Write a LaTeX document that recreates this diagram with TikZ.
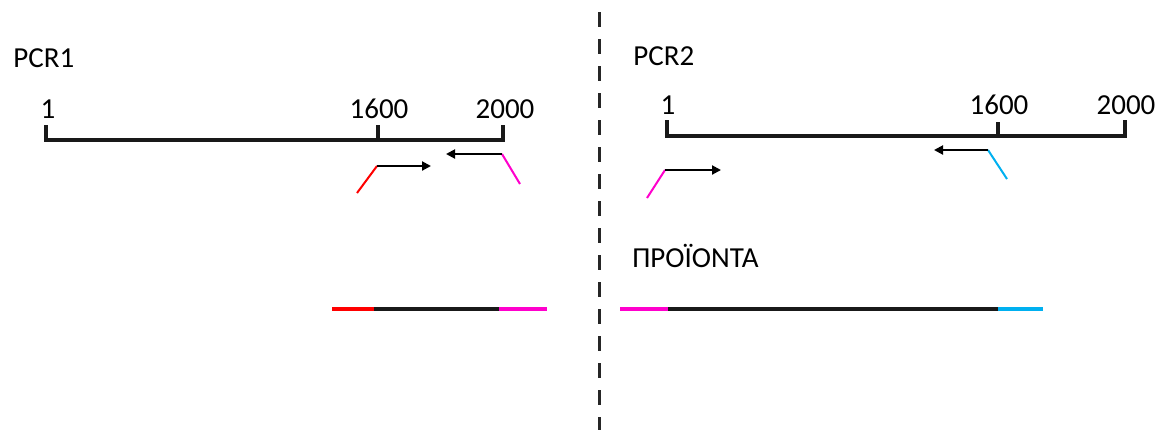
\documentclass[tikz,border=0pt]{standalone}
\usepackage{fontspec}
\setmainfont{Carlito}
\usetikzlibrary{arrows.meta}
\begin{document}
\begin{tikzpicture}[x=0.5pt,y=-0.5pt,
  lbl/.style={inner sep=0pt,anchor=base,font=\fontsize{14.5pt}{16pt}\selectfont,text=black},
  ttl/.style={lbl,anchor=base west},
  ruler/.style={line width=1.6pt,black!90},
  primer/.style={line width=1pt},
  fwd/.style={primer,-{Triangle[length=4.5pt,width=4.5pt]}},
  product/.style={line width=2pt},
  divider/.style={line width=1.5pt,black!85,dash pattern=on 7.5pt off 6pt}]
\useasboundingbox (0,0) rectangle (1167,430);
\definecolor{fred}{RGB}{255,0,0}
\definecolor{fpink}{RGB}{255,0,204}
\definecolor{fblue}{RGB}{0,176,240}

% divider between the two reactions
\coordinate (dtop) at (599,12);
\coordinate (dbot) at (599,430);
\draw[divider] (dtop) -- (dbot);

% ---------- PCR1 ----------
\node[ttl] (t1) at (13,67) {PCR1};
\coordinate (a1) at (46,140);
\coordinate (a1t) at (46,125);
\coordinate (a16) at (378,140);
\coordinate (a16t) at (378,125);
\coordinate (a20) at (503,140);
\coordinate (a20t) at (503,125);
\draw[ruler] (a1t) -- (a1) -- (a20) -- (a20t);
\draw[ruler] (a16) -- (a16t);
\node[lbl] (n1) at (48,118) {1};
\node[lbl] (n16) at (379,118) {1600};
\node[lbl] (n20) at (505,118) {2000};

% primers
\coordinate (p1a) at (357,193);
\coordinate (p1b) at (377,166);
\coordinate (p1c) at (431,166);
\draw[primer,fred] (p1a) -- (p1b);
\draw[fwd] (p1b) -- (p1c);
\coordinate (r1a) at (520,184);
\coordinate (r1b) at (502,154);
\coordinate (r1c) at (446,154);
\draw[primer,fpink] (r1a) -- (r1b);
\draw[fwd] (r1b) -- (r1c);

% product
\coordinate (q1) at (332,309);
\coordinate (q2) at (374,309);
\coordinate (q3) at (499,309);
\coordinate (q4) at (547,309);
\draw[product,fred] (q1) -- (q2);
\draw[product,black!90] (q2) -- (q3);
\draw[product,fpink] (q3) -- (q4);

% ---------- PCR2 ----------
\node[ttl] (t2) at (633,65) {PCR2};
\coordinate (b1) at (667,136);
\coordinate (b1t) at (667,120);
\coordinate (b16) at (998,136);
\coordinate (b16t) at (998,122);
\coordinate (b20) at (1125,136);
\coordinate (b20t) at (1125,120);
\draw[ruler] (b1t) -- (b1) -- (b20) -- (b20t);
\draw[ruler] (b16) -- (b16t);
\node[lbl] (m1) at (668,114) {1};
\node[lbl] (m16) at (999,114) {1600};
\node[lbl] (m20) at (1126,114) {2000};

% primers
\coordinate (p2a) at (647,198);
\coordinate (p2b) at (665,170);
\coordinate (p2c) at (721,170);
\draw[primer,fpink] (p2a) -- (p2b);
\draw[fwd] (p2b) -- (p2c);
\coordinate (r2a) at (1007,179);
\coordinate (r2b) at (988,150);
\coordinate (r2c) at (934,150);
\draw[primer,fblue] (r2a) -- (r2b);
\draw[fwd] (r2b) -- (r2c);

% products
\node[ttl] (t3) at (632,267) {ΠΡΟΪΟΝΤΑ};
\coordinate (s1) at (620,309);
\coordinate (s2) at (668,309);
\coordinate (s3) at (998,309);
\coordinate (s4) at (1043,309);
\draw[product,fpink] (s1) -- (s2);
\draw[product,black!90] (s2) -- (s3);
\draw[product,fblue] (s3) -- (s4);
\end{tikzpicture}
\end{document}
